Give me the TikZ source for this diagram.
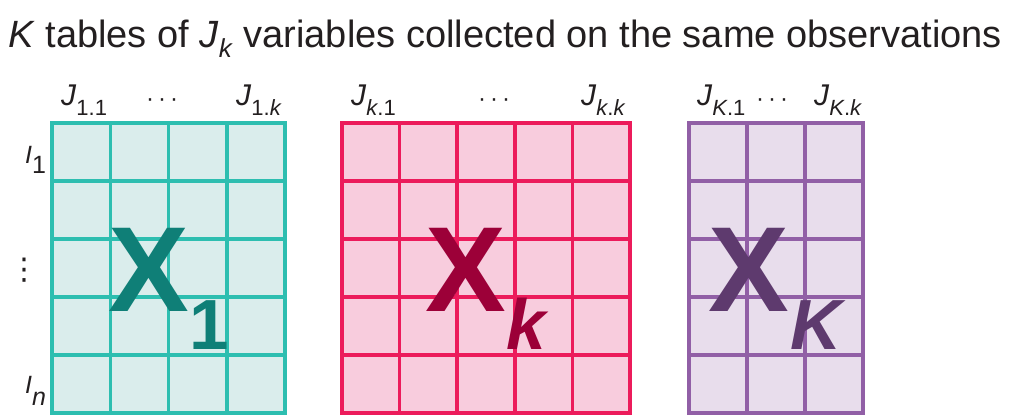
\documentclass[tikz,border=0pt]{standalone}
\usepackage{fontspec}
\setmainfont{Liberation Sans}
\newfontfamily\dejavu{DejaVu Sans}
\definecolor{ink}{HTML}{231F20}
\definecolor{tealline}{HTML}{2DBEB0}
\definecolor{tealfill}{HTML}{DAEDEC}
\definecolor{tealtext}{HTML}{0F7F77}
\definecolor{pinkline}{HTML}{EC1B5B}
\definecolor{pinkfill}{HTML}{F8CCDD}
\definecolor{pinktext}{HTML}{9C0038}
\definecolor{purpline}{HTML}{915FA6}
\definecolor{purpfill}{HTML}{E8DDEC}
\definecolor{purptext}{HTML}{5E3A6E}
\newcommand{\lowsub}[3]{\raisebox{-#1pt}{\fontsize{#2}{#2}\selectfont #3}}
\begin{document}
\begin{tikzpicture}[x=1pt,y=-1pt,
  txt/.style={anchor=base west, inner sep=0pt, text=ink},
  collab/.style={txt, font=\fontsize{30}{30}\selectfont},
  rowlab/.style={txt, font=\fontsize{25}{25}\selectfont},
  bigx/.style={anchor=base west, inner sep=0pt, font=\fontsize{121}{121}\selectfont\bfseries},
  bigsub/.style={anchor=base west, inner sep=0pt, font=\fontsize{71}{71}\selectfont\bfseries},
  gridline/.style={line width=3.5pt}]
\useasboundingbox (0,0) rectangle (1021,418);

% title
\node[txt, font=\fontsize{38}{38}\selectfont] (title) at (8,47)
  {\textit{K} tables of \textit{J}\lowsub{10}{26}{\textit{k}} variables collected on the same observations};

% table 1 (teal)
\fill[tealfill] (52,123) rectangle (285,413);
\foreach \i in {1,2,3} \draw[tealline, gridline] ({52+\i*58.25},123) -- ({52+\i*58.25},413);
\foreach \j in {1,...,4} \draw[tealline, gridline] (52,{123+\j*58}) -- (285,{123+\j*58});
\draw[tealline, gridline] (52,123) rectangle (285,413);

% table k (pink)
\fill[pinkfill] (342,123) rectangle (630,413);
\foreach \i in {1,...,4} \draw[pinkline, gridline] ({342+\i*57.6},123) -- ({342+\i*57.6},413);
\foreach \j in {1,...,4} \draw[pinkline, gridline] (342,{123+\j*58}) -- (630,{123+\j*58});
\draw[pinkline, gridline] (342,123) rectangle (630,413);

% table K (purple)
\fill[purpfill] (689,123) rectangle (863,413);
\foreach \i in {1,2} \draw[purpline, gridline] ({689+\i*58},123) -- ({689+\i*58},413);
\foreach \j in {1,...,4} \draw[purpline, gridline] (689,{123+\j*58}) -- (863,{123+\j*58});
\draw[purpline, gridline] (689,123) rectangle (863,413);

% column labels
\node[collab] (j11) at (61,105) {\textit{J}\lowsub{10}{22}{1.1}};
\node[txt, font=\fontsize{24}{24}\selectfont] (d1) at (146,106) {·\,·\,·};
\node[collab] (j1k) at (236,105) {\textit{J}\lowsub{10}{22}{1.\textit{k}}};
\node[collab] (jk1) at (351,105) {\textit{J}\lowsub{10}{22}{\textit{k}.1}};
\node[txt, font=\fontsize{24}{24}\selectfont] (d2) at (478,106) {·\,·\,·};
\node[collab] (jkk) at (581,105) {\textit{J}\lowsub{10}{22}{\textit{k}.\textit{k}}};
\node[collab] (jK1) at (697,105) {\textit{J}\lowsub{10}{22}{\textit{K}.1}};
\node[txt, font=\fontsize{24}{24}\selectfont] (d3) at (756,106) {·\,·\,·};
\node[collab] (jKk) at (814,105) {\textit{J}\lowsub{10}{22}{\textit{K}.\textit{k}}};

% row labels
\node[rowlab] (i1) at (25,163) {\textit{I}\lowsub{10}{25}{1}};
\node[txt, font=\fontsize{30}{30}\dejavu] (vd) at (9,279.5) {⋮};
\node[rowlab] (in) at (25,393) {\textit{I}\lowsub{12}{25}{\textit{n}}};

% big labels
\node[bigx, text=tealtext] (x1) at (108,311) {X};
\node[bigsub, text=tealtext] (x1s) at (189,349) {1};
\node[bigx, text=pinktext] (xk) at (425,311) {X};
\node[bigsub, text=pinktext] (xks) at (506,349) {\itshape k};
\node[bigx, text=purptext] (xK) at (708,311) {X};
\node[bigsub, text=purptext] (xKs) at (790,349) {\itshape K};
\end{tikzpicture}
\end{document}
